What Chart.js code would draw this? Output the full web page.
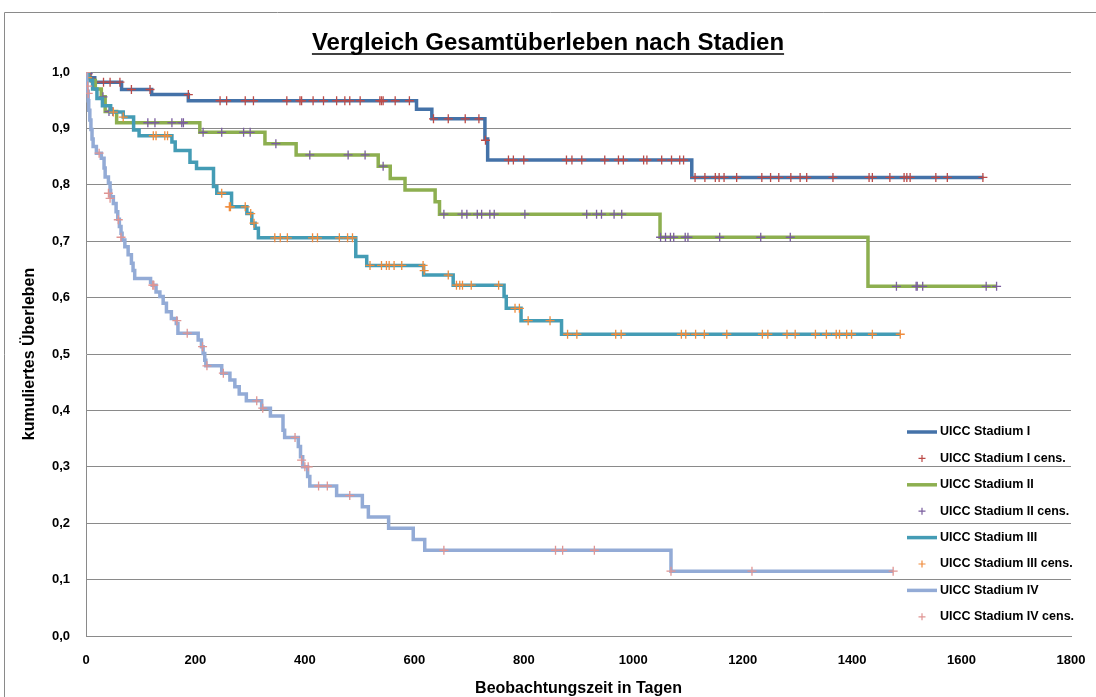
<!DOCTYPE html>
<html lang="de">
<head>
  <meta charset="utf-8">
  <title>Vergleich Gesamtüberleben nach Stadien</title>
  <script src="https://cdn.jsdelivr.net/npm/chart.js"></script>
  <style>
    html, body { margin: 0; padding: 0; background: #fff; }
    #wrap { width: 1096px; height: 697px; }
    canvas { display: block; }
  </style>
</head>
<body>
<div id="wrap"><canvas id="kmChart" width="1096" height="697"></canvas></div>

<script>
  // Stufen der Kaplan-Meier-Kurven: [Tag, kumuliertes Überleben]
  const stage1Steps = [[0,1.0],[7,0.99],[16,0.982],[65,0.969],[120,0.96],[187,0.949],[604,0.934],[632,0.917],[729,0.881],[734,0.844],[1107,0.813],[1640,0.813]];
  const stage2Steps = [[0,1.0],[5,0.985],[17,0.97],[28,0.956],[35,0.93],[56,0.91],[208,0.893],[327,0.873],[384,0.853],[534,0.833],[556,0.811],[583,0.791],[638,0.77],[646,0.748],[1049,0.707],[1429,0.62],[1664,0.62]];
  const stage3Steps = [[0,1.0],[4,0.985],[12,0.97],[20,0.953],[30,0.94],[45,0.929],[68,0.92],[87,0.897],[97,0.887],[157,0.876],[163,0.861],[190,0.84],[202,0.829],[233,0.797],[239,0.785],[266,0.761],[294,0.749],[303,0.732],[309,0.723],[315,0.706],[493,0.673],[513,0.657],[617,0.64],[671,0.622],[764,0.602],[768,0.581],[795,0.559],[869,0.535],[1488,0.535]];
  const stage4Steps = [[0,1.0],[1,0.983],[2,0.966],[4,0.949],[5,0.932],[7,0.915],[9,0.898],[11,0.881],[13,0.868],[19,0.856],[28,0.847],[33,0.83],[35,0.814],[41,0.803],[44,0.79],[45,0.779],[50,0.767],[55,0.752],[58,0.739],[61,0.726],[64,0.714],[66,0.702],[71,0.69],[77,0.676],[83,0.661],[86,0.648],[89,0.634],[118,0.627],[121,0.622],[128,0.61],[135,0.602],[141,0.59],[147,0.575],[156,0.563],[165,0.554],[168,0.537],[205,0.525],[211,0.513],[214,0.501],[217,0.489],[219,0.479],[248,0.466],[263,0.454],[272,0.442],[280,0.429],[293,0.417],[321,0.404],[337,0.39],[360,0.365],[363,0.352],[388,0.336],[392,0.318],[396,0.3],[405,0.283],[409,0.266],[458,0.249],[505,0.229],[516,0.211],[553,0.191],[598,0.171],[619,0.152],[1069,0.115],[1475,0.115]];

  // zensierte Fälle: [Tag, kumuliertes Überleben]
  const stage1Cens = [[3,0.995],[16,0.982],[32,0.982],[44,0.982],[62,0.982],[83,0.969],[117,0.969],[187,0.96],[245,0.949],[257,0.949],[291,0.949],[306,0.949],[367,0.949],[391,0.949],[394,0.949],[415,0.949],[434,0.949],[458,0.949],[473,0.949],[482,0.949],[501,0.949],[537,0.949],[540,0.949],[543,0.949],[565,0.949],[591,0.949],[635,0.917],[662,0.917],[693,0.917],[718,0.917],[730,0.879],[772,0.844],[781,0.844],[800,0.844],[878,0.844],[888,0.844],[906,0.844],[948,0.844],[973,0.844],[982,0.844],[1019,0.844],[1025,0.844],[1052,0.844],[1070,0.844],[1085,0.844],[1092,0.844],[1113,0.813],[1131,0.813],[1150,0.813],[1157,0.813],[1166,0.813],[1189,0.813],[1235,0.813],[1251,0.813],[1266,0.813],[1288,0.813],[1305,0.813],[1317,0.813],[1365,0.813],[1431,0.813],[1437,0.813],[1469,0.813],[1495,0.813],[1500,0.813],[1506,0.813],[1553,0.813],[1574,0.813],[1639,0.813]];
  const stage2Cens = [[4,0.997],[31,0.956],[42,0.93],[49,0.93],[113,0.91],[126,0.91],[157,0.91],[175,0.91],[178,0.91],[214,0.893],[248,0.893],[288,0.893],[300,0.893],[347,0.873],[409,0.853],[479,0.853],[510,0.853],[543,0.833],[654,0.748],[687,0.748],[696,0.748],[715,0.748],[723,0.748],[738,0.748],[746,0.748],[802,0.748],[915,0.748],[933,0.748],[942,0.748],[965,0.748],[979,0.748],[1050,0.707],[1059,0.707],[1068,0.707],[1074,0.707],[1095,0.707],[1100,0.707],[1158,0.707],[1233,0.707],[1287,0.707],[1481,0.62],[1517,0.62],[1519,0.62],[1529,0.62],[1645,0.62],[1664,0.62]];
  const stage3Cens = [[0,1.0],[3,0.99],[50,0.929],[68,0.92],[123,0.887],[128,0.887],[144,0.887],[149,0.887],[248,0.785],[262,0.761],[264,0.761],[291,0.761],[301,0.749],[307,0.732],[345,0.706],[355,0.706],[368,0.706],[414,0.706],[423,0.706],[463,0.706],[478,0.706],[487,0.706],[519,0.657],[540,0.657],[549,0.657],[554,0.657],[563,0.657],[577,0.657],[616,0.657],[618,0.648],[662,0.64],[677,0.622],[683,0.622],[688,0.622],[704,0.622],[754,0.622],[784,0.581],[792,0.581],[808,0.559],[848,0.559],[880,0.535],[897,0.535],[968,0.535],[978,0.535],[1088,0.535],[1096,0.535],[1114,0.535],[1130,0.535],[1171,0.535],[1236,0.535],[1246,0.535],[1281,0.535],[1296,0.535],[1333,0.535],[1353,0.535],[1371,0.535],[1377,0.535],[1390,0.535],[1399,0.535],[1437,0.535],[1488,0.535]];
  const stage4Cens = [[0,1.0],[3,0.975],[4,0.962],[24,0.856],[41,0.785],[44,0.776],[59,0.738],[64,0.707],[122,0.622],[124,0.622],[166,0.559],[185,0.537],[213,0.513],[221,0.479],[251,0.466],[312,0.417],[323,0.404],[382,0.352],[394,0.312],[400,0.3],[406,0.3],[425,0.266],[441,0.266],[482,0.249],[654,0.152],[858,0.152],[871,0.152],[929,0.152],[1069,0.115],[1217,0.115],[1475,0.115]];

  const seriesLabels = ['UICC Stadium I', 'UICC Stadium I cens.', 'UICC Stadium II', 'UICC Stadium II cens.',
                        'UICC Stadium III', 'UICC Stadium III cens.', 'UICC Stadium IV', 'UICC Stadium IV cens.'];
  const yTicks = [0, 0.1, 0.2, 0.3, 0.4, 0.5, 0.6, 0.7, 0.8, 0.9, 1.0];
  const xTicks = [0, 200, 400, 600, 800, 1000, 1200, 1400, 1600, 1800];
  const chartTitle = 'Vergleich Gesamtüberleben nach Stadien';

  const seriesColors = ['#4472A8', '#BC4A47', '#8DAF50', '#7A5E9E', '#449CB5', '#F08C3C', '#93ABD6', '#E09593'];
  const FONT = "'Liberation Sans', Arial, sans-serif";

  const toXY = arr => arr.map(p => ({ x: p[0], y: p[1] }));
  const allSeries = [stage1Steps, stage1Cens, stage2Steps, stage2Cens, stage3Steps, stage3Cens, stage4Steps, stage4Cens];

  const datasets = allSeries.map((arr, i) => {
    const isLine = i % 2 === 0;
    const ds = {
      label: seriesLabels[i],
      data: toXY(arr),
      borderColor: seriesColors[i],
      backgroundColor: seriesColors[i],
      order: allSeries.length - i   // spätere Serien oben
    };
    if (isLine) {
      Object.assign(ds, { stepped: true, showLine: true, borderWidth: 3.5, pointRadius: 0,
                          borderJoinStyle: 'miter', borderCapStyle: 'butt' });
    } else {
      Object.assign(ds, { showLine: false, pointStyle: 'cross', pointRadius: 4.5,
                          pointBorderWidth: 1.3, pointHoverRadius: 4.5 });
    }
    return ds;
  });

  // Rahmen, unterstrichener Titel und Legende im Diagramm
  const decoPlugin = {
    id: 'deco',
    beforeDraw(chart) {
      const ctx = chart.ctx;
      ctx.save();
      ctx.strokeStyle = '#8a8a8a';
      ctx.lineWidth = 1;
      ctx.beginPath();
      ctx.moveTo(4.5, 697);
      ctx.lineTo(4.5, 12.5);
      ctx.lineTo(1096, 12.5);
      ctx.stroke();
      ctx.restore();
    },
    afterDraw(chart) {
      const ctx = chart.ctx;
      ctx.save();
      // Titel
      ctx.font = 'bold 24px ' + FONT;
      ctx.fillStyle = '#000';
      ctx.textAlign = 'center';
      ctx.textBaseline = 'alphabetic';
      const cx = chart.width / 2;
      ctx.fillText(chartTitle, cx, 50);
      const w = ctx.measureText(chartTitle).width;
      ctx.strokeStyle = '#000';
      ctx.lineWidth = 1.5;
      ctx.beginPath();
      ctx.moveTo(cx - w / 2, 54);
      ctx.lineTo(cx + w / 2, 54);
      ctx.stroke();

      // Legende
      const lx = 907, ly = 432, step = 26.4;
      ctx.font = 'bold 12.5px ' + FONT;
      ctx.textAlign = 'left';
      ctx.textBaseline = 'middle';
      chart.data.datasets.forEach((ds, i) => {
        const y = ly + i * step;
        ctx.strokeStyle = ds.borderColor;
        ctx.beginPath();
        if (i % 2 === 0) {
          ctx.lineWidth = 3.5;
          ctx.moveTo(lx, y);
          ctx.lineTo(lx + 30, y);
        } else {
          ctx.lineWidth = 1.2;
          ctx.moveTo(lx + 11.5, y);
          ctx.lineTo(lx + 18.5, y);
          ctx.moveTo(lx + 15, y - 3.5);
          ctx.lineTo(lx + 15, y + 3.5);
        }
        ctx.stroke();
        ctx.fillStyle = '#000';
        ctx.fillText(ds.label, lx + 33, y);
      });
      ctx.restore();
    }
  };

  new Chart(document.getElementById('kmChart').getContext('2d'), {
    type: 'line',
    data: { datasets: datasets },
    plugins: [decoPlugin],
    options: {
      responsive: false,
      animation: false,
      layout: { padding: { left: 0, right: 25, top: 72, bottom: 0 } },
      plugins: {
        legend: { display: false },
        tooltip: { enabled: false },
        title: { display: false }
      },
      scales: {
        x: {
          type: 'linear',
          min: xTicks[0],
          max: xTicks[xTicks.length - 1],
          afterFit: scale => { scale.height = 61; scale.paddingLeft = 0; scale.paddingRight = 0; },
          afterBuildTicks: scale => { scale.ticks = xTicks.map(v => ({ value: v })); },
          grid: { display: false, drawTicks: false },
          border: { display: true, color: '#8a8a8a', width: 1 },
          ticks: { color: '#000', padding: 17, font: { family: FONT, size: 13, weight: 'bold' },
                   maxRotation: 0, autoSkip: false, callback: v => String(v) },
          title: {
            display: true,
            text: 'Beobachtungszeit in Tagen',
            color: '#000',
            font: { family: FONT, size: 16, weight: 'bold', lineHeight: 1 },
            padding: { top: 0, bottom: 0 }
          }
        },
        y: {
          min: yTicks[0],
          max: yTicks[yTicks.length - 1],
          afterFit: scale => { scale.width = 86; },
          afterBuildTicks: scale => { scale.ticks = yTicks.map(v => ({ value: v })); },
          grid: { color: '#8a8a8a', lineWidth: 1, drawTicks: false },
          border: { display: true, color: '#8a8a8a', width: 1 },
          ticks: {
            color: '#000', padding: 16, font: { family: FONT, size: 13, weight: 'bold' },
            callback: v => v.toFixed(1).replace('.', ',')
          },
          title: {
            display: true,
            text: 'kumuliertes Überleben',
            color: '#000',
            font: { family: FONT, size: 16, weight: 'bold', lineHeight: 1 },
            padding: { top: 22, bottom: 0 }
          }
        }
      }
    }
  });
</script>
</body>
</html>
